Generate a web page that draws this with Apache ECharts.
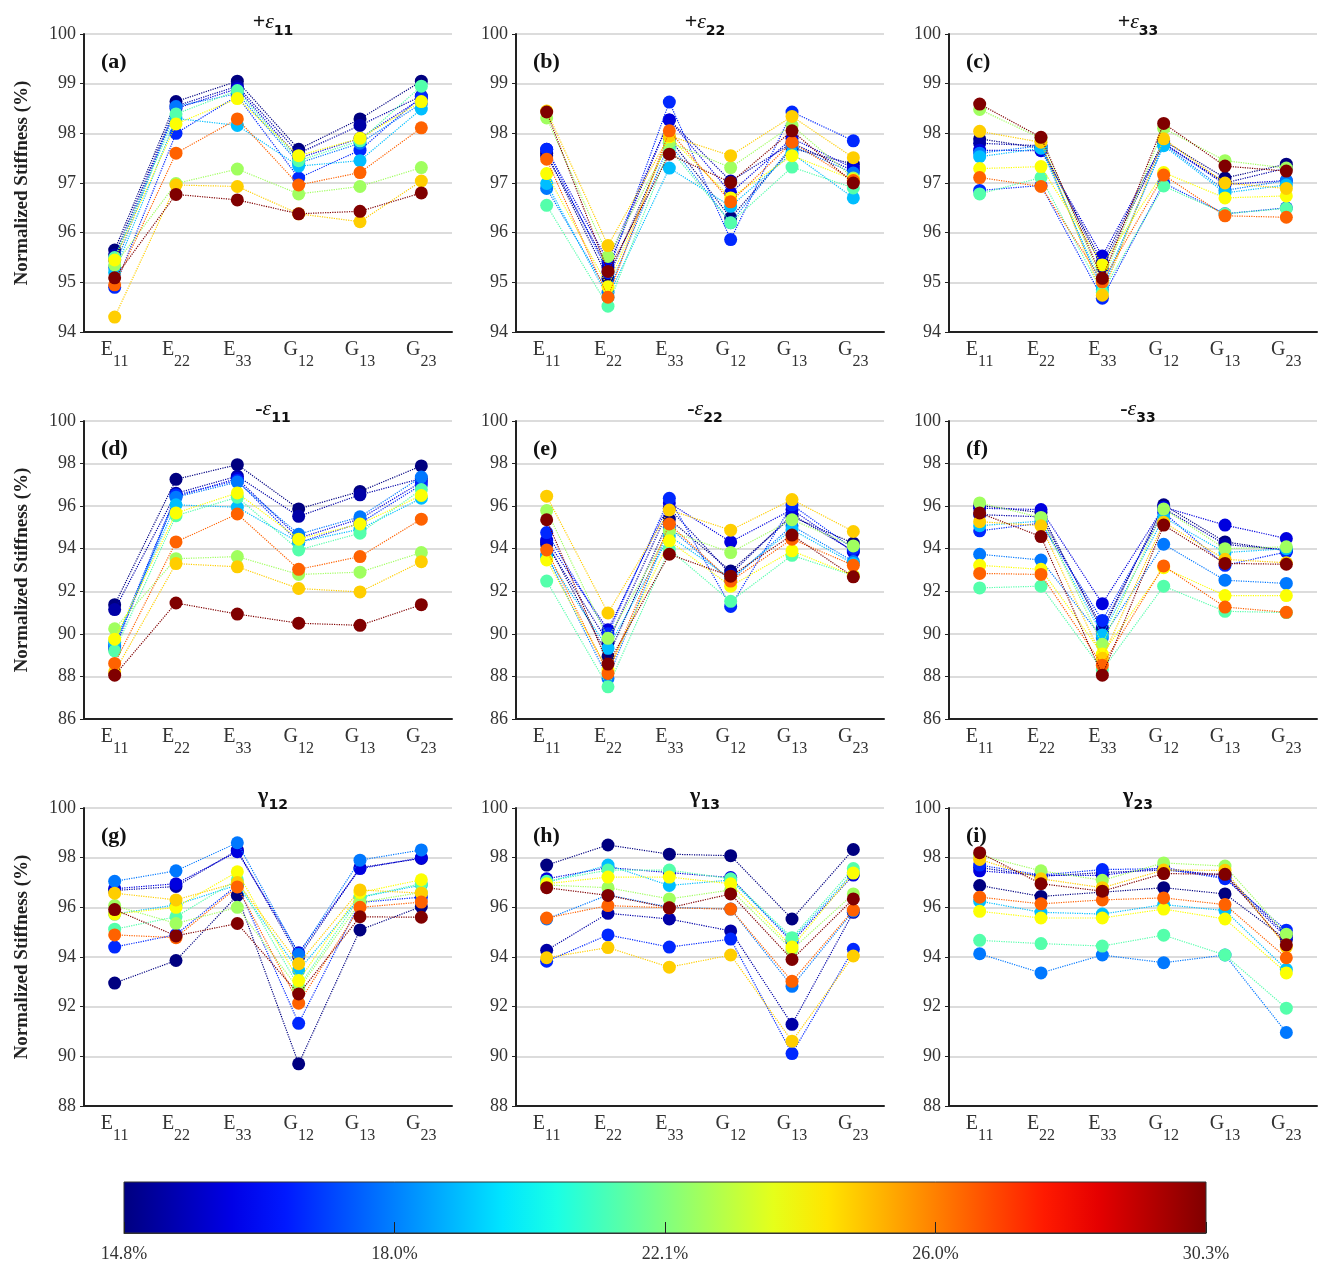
<!DOCTYPE html>
<html><head><meta charset="utf-8">
<script src="https://cdn.jsdelivr.net/npm/echarts@6/dist/echarts.min.js"></script>
<style>html,body{margin:0;padding:0;background:#fff}#c{width:1319px;height:1266px}</style>
</head><body><div id="c"></div><script>
// ---------- data ----------
const categories = ['E11','E22','E33','G12','G13','G23'];
// porosity of each specimen (colour-coded), rows of each panel follow this order
const porosity = [14.8, 15.3, 16.0, 16.9, 17.9, 19.0, 21.4, 22.6, 24.0, 24.8, 26.5, 30.3];
const colorbarTicks = [14.8, 18.0, 22.1, 26.0, 30.3];
const panelLetters = ['(a)','(b)','(c)','(d)','(e)','(f)','(g)','(h)','(i)'];
const panelTitles = [['+','ε','11'],['+','ε','22'],['+','ε','33'],['-','ε','11'],['-','ε','22'],['-','ε','33'],['','γ','12'],['','γ','13'],['','γ','23']];
const rowRanges = [[94,100,1],[86,100,2],[88,100,2]];

const panelA = [
 [95.65,98.64,99.05,97.68,98.29,99.05],
 [95.55,98.55,98.95,97.60,98.16,98.75],
 [95.45,98.50,98.90,97.50,97.90,98.70],
 [94.90,98.00,98.75,97.10,97.66,98.74],
 [95.30,98.54,98.80,97.40,97.80,98.60],
 [95.20,98.30,98.16,97.34,97.45,98.49],
 [95.50,98.39,98.86,97.45,97.85,98.95],
 [95.35,96.99,97.28,96.78,96.93,97.31],
 [95.45,98.19,98.70,97.55,97.90,98.64],
 [94.30,96.96,96.93,96.38,96.22,97.04],
 [94.95,97.60,98.29,96.96,97.21,98.11],
 [95.09,96.77,96.66,96.38,96.43,96.80]];
const panelB = [
 [97.60,95.08,97.90,96.30,97.70,97.38],
 [97.55,95.30,98.27,97.04,97.80,97.25],
 [97.68,95.42,98.27,96.80,97.90,97.30],
 [97.68,95.20,98.63,95.86,98.43,97.85],
 [96.89,94.80,97.80,96.20,97.75,97.20],
 [96.99,94.70,97.30,96.53,97.60,96.70],
 [96.55,94.52,97.70,96.20,97.32,96.90],
 [98.31,95.52,97.82,97.31,98.16,97.10],
 [97.19,94.91,97.93,96.70,97.55,97.07],
 [98.45,95.74,97.95,97.55,98.34,97.51],
 [97.48,94.70,98.05,96.62,97.82,97.05],
 [98.43,95.22,97.58,97.01,98.05,97.00]];
const panelC = [
 [97.89,97.70,95.40,97.85,97.10,97.38],
 [97.80,97.75,95.30,97.80,97.00,97.30],
 [97.66,97.65,95.53,97.80,96.97,97.05],
 [96.85,96.95,94.68,97.00,96.38,96.50],
 [97.60,97.75,94.85,97.78,96.85,97.05],
 [97.53,97.70,94.91,97.75,96.80,96.96],
 [96.78,97.11,94.80,96.94,96.38,96.49],
 [98.48,97.90,95.00,98.10,97.45,97.30],
 [97.29,97.33,95.35,97.21,96.70,96.74],
 [98.04,97.82,94.74,97.89,97.00,96.89],
 [97.11,96.93,95.01,97.16,96.34,96.31],
 [98.59,97.92,95.08,98.20,97.34,97.24]];
const panelD = [
 [91.37,97.26,97.95,95.87,96.69,97.89],
 [91.14,96.60,97.41,95.52,96.53,97.30],
 [89.30,96.45,97.30,94.50,95.40,97.13],
 [89.48,96.53,97.20,94.29,95.20,97.00],
 [89.40,96.42,97.13,94.68,95.50,97.37],
 [89.60,96.06,95.95,94.30,94.92,96.37],
 [89.20,95.55,96.42,93.94,94.73,96.78],
 [90.24,93.53,93.63,92.79,92.90,93.82],
 [89.75,95.68,96.62,94.45,95.16,96.50],
 [88.22,93.30,93.15,92.13,91.97,93.39],
 [88.61,94.32,95.63,93.03,93.63,95.39],
 [88.06,91.45,90.93,90.50,90.40,91.37]];
const panelE = [
 [94.32,88.93,95.39,92.95,95.50,94.26],
 [94.20,89.60,95.90,92.80,95.60,93.90],
 [94.40,90.19,96.15,94.32,95.84,93.85],
 [94.76,90.00,96.37,91.29,96.06,94.00],
 [93.70,87.90,95.00,92.50,95.08,93.40],
 [93.60,89.32,94.60,92.60,94.90,93.30],
 [92.48,87.51,93.97,91.53,93.69,92.74],
 [95.79,89.79,94.84,93.82,95.36,94.13],
 [93.47,88.30,94.37,92.24,93.90,92.74],
 [96.47,90.98,95.82,94.87,96.31,94.81],
 [93.94,88.14,95.16,92.48,94.45,93.22],
 [95.36,88.58,93.74,92.71,94.64,92.68]];
const panelF = [
 [96.03,95.70,90.11,96.06,94.32,93.90],
 [95.60,95.50,90.30,95.90,94.20,93.95],
 [95.90,95.84,91.42,95.95,95.11,94.48],
 [94.84,95.20,90.63,95.70,93.22,93.85],
 [93.74,93.47,89.80,94.21,92.52,92.37],
 [95.08,95.30,89.95,95.47,93.82,94.00],
 [92.16,92.24,88.30,92.24,91.06,91.00],
 [96.15,95.47,89.51,95.87,94.00,94.09],
 [93.22,93.03,89.05,93.11,91.80,91.80],
 [95.27,95.08,88.85,95.24,93.50,93.34],
 [92.84,92.79,88.53,93.19,91.26,91.01],
 [95.68,94.57,88.06,95.11,93.31,93.27]];
const panelG = [
 [92.95,93.86,96.48,89.70,95.09,96.03],
 [96.68,96.84,98.30,94.00,97.60,97.97],
 [96.75,96.95,98.24,94.17,97.56,98.00],
 [94.40,94.90,96.90,91.33,96.20,96.41],
 [97.05,97.47,98.60,94.10,97.90,98.31],
 [95.73,96.10,96.90,93.46,96.40,96.90],
 [95.12,95.62,97.11,92.80,96.41,96.95],
 [96.07,95.35,96.00,92.70,96.20,96.60],
 [95.73,96.00,97.43,93.05,96.60,97.11],
 [96.57,96.30,97.00,93.73,96.70,96.57],
 [94.89,94.78,96.82,92.14,96.00,96.21],
 [95.91,94.85,95.35,92.51,95.62,95.60]];
const panelH = [
 [97.70,98.51,98.14,98.08,95.53,98.33],
 [94.27,95.76,95.53,95.05,91.29,95.80],
 [97.15,97.60,97.40,97.20,94.60,97.30],
 [93.83,94.89,94.40,94.72,90.11,94.31],
 [95.53,96.50,96.00,95.93,92.82,95.85],
 [97.00,97.70,96.88,97.10,94.70,97.40],
 [97.05,97.50,97.50,97.15,94.78,97.56],
 [96.90,96.79,96.34,96.70,94.30,96.54],
 [96.95,97.22,97.22,96.95,94.40,97.38],
 [93.97,94.38,93.59,94.08,90.61,94.04],
 [95.57,96.07,95.98,95.93,93.02,95.89],
 [96.79,96.48,95.98,96.54,93.90,96.34]];
const panelI = [
 [96.88,96.44,96.61,96.79,96.54,94.70],
 [97.60,97.25,97.40,97.50,97.30,94.90],
 [97.47,97.29,97.29,97.60,97.20,94.80],
 [97.70,97.30,97.52,97.56,97.15,95.08],
 [94.13,93.36,94.08,93.77,94.08,90.96],
 [96.25,95.80,95.73,96.11,95.87,93.50],
 [94.67,94.54,94.44,94.88,94.08,91.94],
 [98.10,97.47,97.09,97.79,97.66,94.92],
 [95.84,95.57,95.57,95.93,95.53,93.36],
 [97.93,97.15,96.79,97.50,97.49,94.40],
 [96.41,96.14,96.30,96.38,96.11,93.97],
 [98.20,96.95,96.65,97.36,97.33,94.49]];
const panels = [panelA,panelB,panelC,panelD,panelE,panelF,panelG,panelH,panelI];

// ---------- colour map (jet) ----------
function clamp(v){return Math.max(0,Math.min(1,v));}
function jet(t){
  const r=clamp(Math.min(4*t-1.5,-4*t+4.5)), g=clamp(Math.min(4*t-0.5,-4*t+3.5)), b=clamp(Math.min(4*t+0.5,-4*t+2.5));
  return 'rgb('+Math.round(r*255)+','+Math.round(g*255)+','+Math.round(b*255)+')';
}
function porToT(p){
  const n=colorbarTicks.length-1;
  for(let i=0;i<n;i++){
    const a=colorbarTicks[i], b=colorbarTicks[i+1];
    if(p<=b || i===n-1) return (i+ (p-a)/(b-a))/n;
  }
  return 1;
}

// ---------- layout ----------
const SERIF='"Liberation Serif","Times New Roman",serif';
const colLeft=[84,516,949], rowTop=[34,421,808], W=368, H=298;
const grids=[], xAxes=[], yAxes=[], series=[], titles=[];
const xRich={ m:{fontFamily:SERIF,fontSize:20,color:'#333',lineHeight:20,verticalAlign:'top'},
              s:{fontFamily:SERIF,fontSize:16,color:'#333',lineHeight:30,verticalAlign:'bottom'} };
for(let k=0;k<9;k++){
  const r=Math.floor(k/3), c=k%3;
  grids.push({left:colLeft[c],top:rowTop[r],width:W,height:H,containLabel:false,outerBoundsMode:'none'});
  xAxes.push({gridIndex:k,type:'category',data:categories,boundaryGap:true,
    axisLine:{lineStyle:{color:'#222',width:2}},
    axisTick:{alignWithLabel:true,interval:0,length:5,lineStyle:{color:'#222',width:1.5}},
    axisLabel:{interval:0,margin:8,formatter:v=>'{m|'+v[0]+'}{s|'+v.slice(1)+'}',rich:xRich},
    splitLine:{show:false}});
  const rg=rowRanges[r];
  yAxes.push({gridIndex:k,type:'value',min:rg[0],max:rg[1],interval:rg[2],
    axisLine:{show:true,lineStyle:{color:'#222',width:2}},
    axisTick:{show:true,length:4,lineStyle:{color:'#222'}},
    axisLabel:{fontFamily:SERIF,fontSize:18,color:'#333',margin:8},
    splitLine:{show:true,lineStyle:{color:'#dcdcdc',width:2}},
    name: c===0?'Normalized Stiffness (%)':'', nameLocation:'middle', nameGap:52, nameRotate:90,
    nameTextStyle:{fontFamily:SERIF,fontSize:19,fontWeight:'bold',color:'#222'}});
  const data=panels[k];
  for(let s=0;s<data.length;s++){
    const col=jet(porToT(porosity[s]));
    series.push({type:'line',xAxisIndex:k,yAxisIndex:k,data:data[s],name:porosity[s]+'%',
      symbol:'circle',symbolSize:13,showSymbol:true,
      itemStyle:{color:col,borderWidth:0},
      lineStyle:{color:col,width:1.2,type:'dotted'},z:2+s});
  }
  const t=panelTitles[k];
  titles.push({text:(t[0]?'{n|'+t[0]+'}':'')+'{e|'+t[1]+'}{s|'+t[2]+'}',
    left:colLeft[c]+W/2, top:rowTop[r]-28, textAlign:'center',
    textStyle:{rich:{
      n:{fontFamily:SERIF,fontSize:22,color:'#111',lineHeight:22,verticalAlign:'top'},
      e:{fontFamily:SERIF,fontSize:22,fontStyle:t[1]==='ε'?'italic':'normal',fontWeight:t[1]==='γ'?'bold':'normal',color:'#111',lineHeight:22,verticalAlign:'top'},
      s:{fontFamily:'"DejaVu Sans",sans-serif',fontSize:14,fontWeight:'bold',color:'#111',lineHeight:27,verticalAlign:'bottom'}}}});
  titles.push({text:panelLetters[k],left:colLeft[c]+12,top:rowTop[r]+12,
    textStyle:{fontFamily:SERIF,fontSize:22,fontWeight:'bold',color:'#111'}});
}

// ---------- colour bar ----------
const jetStops=[];
for(let i=0;i<=20;i++){jetStops.push({offset:i/20,color:jet(i/20)});}
grids.push({left:124,top:1182,width:1082,height:51,show:true,
  backgroundColor:{type:'linear',x:0,y:0,x2:1,y2:0,colorStops:jetStops},
  borderColor:'#333',borderWidth:1,containLabel:false,outerBoundsMode:'none'});
xAxes.push({gridIndex:9,type:'value',min:0,max:1,interval:0.25,
  axisLine:{show:true,lineStyle:{color:'#333',width:1}},
  axisTick:{show:true,inside:true,length:11,lineStyle:{color:'#222',width:1}},
  splitLine:{show:false},
  axisLabel:{margin:12,fontFamily:SERIF,fontSize:18,color:'#333',
    formatter:v=>colorbarTicks[Math.round(v*4)].toFixed(1)+'%'}});
yAxes.push({gridIndex:9,type:'value',min:0,max:1,show:false});

const chart=echarts.init(document.getElementById('c'),null,{renderer:'canvas'});
chart.setOption({animation:false,backgroundColor:'#fff',title:titles,grid:grids,xAxis:xAxes,yAxis:yAxes,series:series});
</script></body></html>
